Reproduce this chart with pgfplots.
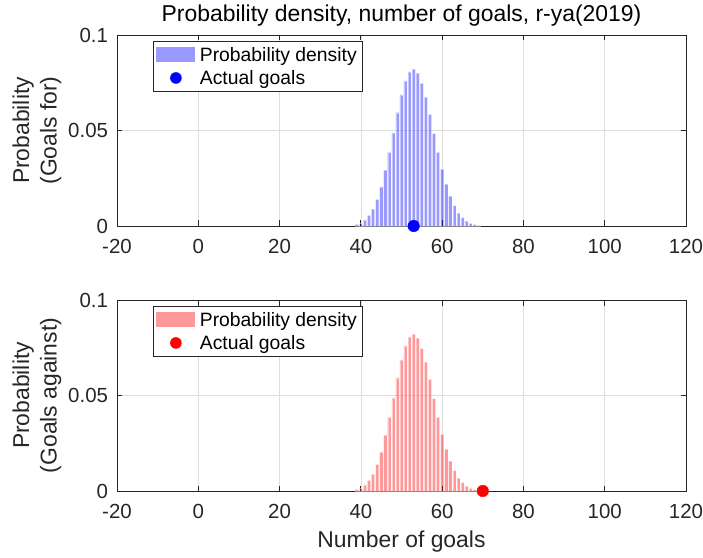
\documentclass[border=0pt]{standalone}
\usepackage{fontspec}
\setmainfont{Liberation Sans}
\usepackage{pgfplots}
\usepackage{pgfplotstable}
\pgfplotsset{compat=1.18}
\definecolor{axgray}{rgb}{0.15,0.15,0.15}
\definecolor{barblue}{rgb}{0.6,0.6,1}
\definecolor{barred}{rgb}{1,0.6,0.6}

\pgfplotstableread{
x y
39 0.0008
40 0.0014
41 0.0032
42 0.0056
43 0.0089
44 0.0140
45 0.0205
46 0.0293
47 0.0386
48 0.0488
49 0.0593
50 0.0686
51 0.0760
52 0.0807
53 0.0821
54 0.0800
55 0.0747
56 0.0675
57 0.0584
58 0.0484
59 0.0386
60 0.0298
61 0.0219
62 0.0156
63 0.0107
64 0.0068
65 0.0044
66 0.0026
67 0.0014
68 0.0007
69 0.0003
}\distfor

\pgfplotstableread{
x y
39 0.0008
40 0.0014
41 0.0032
42 0.0056
43 0.0089
44 0.0140
45 0.0205
46 0.0293
47 0.0386
48 0.0488
49 0.0593
50 0.0686
51 0.0760
52 0.0807
53 0.0821
54 0.0800
55 0.0747
56 0.0675
57 0.0584
58 0.0484
59 0.0386
60 0.0298
61 0.0219
62 0.0156
63 0.0107
64 0.0068
65 0.0044
66 0.0026
67 0.0014
68 0.0007
69 0.0003
}\distagainst

\pgfplotsset{
  goalstyle/.style={
    width=569bp, height=191bp, scale only axis,
    xmin=-20, xmax=120, ymin=0, ymax=0.1,
    xtick={-20,0,20,40,60,80,100,120},
    xticklabels={-20,0,20,40,60,80,100,120},
    ytick={0,0.05,0.1}, yticklabels={0,0.05,0.1},
    tick label style={font=\fontsize{20.5}{24}\selectfont, text=axgray, inner sep=1bp},
    xticklabel style={yshift=-12.3bp},
    yticklabel style={xshift=-7.8bp},
    axis line style={axgray, line width=0.8bp},
    tick style={axgray, line width=0.8bp},
    major tick length=5.5bp,
    tick align=inside,
    grid=major, grid style={black!13, line width=0.6bp},
    ylabel style={font=\fontsize{23}{27.5}\selectfont, text=axgray, align=center,
      at={(axis description cs:0,0.5)}, anchor=center, yshift=80bp},
    clip=false,
    legend cell align=left,
    legend style={anchor=north west, draw=axgray, line width=0.8bp,
      font=\fontsize{19.4}{22}\selectfont, inner xsep=3bp, inner ysep=2bp,
      nodes={inner xsep=2.5bp, inner ysep=3.8bp}, row sep=0bp,
      at={(axis description cs:0.0633,0.969)}},
  },
  barleg/.style={legend image code/.code={
      \fill[#1, fill opacity=1, draw=none] (0bp,-7.5bp) rectangle (39bp,7.5bp);
      \path[draw=none, fill=none] (0bp,0bp) -- (41bp,0bp);}},
  dotleg/.style={legend image code/.code={
      \path[draw=none, fill=none] (0bp,0bp) -- (41bp,0bp);
      \fill[#1, draw=none] (19.5bp,0bp) circle (5.8bp);}},
}

\begin{document}
\begin{tikzpicture}
\useasboundingbox (-117bp,-332bp) rectangle (586bp,226bp);
\begin{axis}[goalstyle, at={(0bp,0bp)},
  ylabel={Probability\\(Goals for)},
  title={Probability density, number of goals, r-ya(2019)},
  title style={font=\fontsize{23}{27}\selectfont, text=black,
    at={(axis description cs:0.5,1)}, anchor=base, yshift=8bp}]
\addplot[ybar, bar width=0.78, fill=blue, fill opacity=0.4, draw=white, draw opacity=0.45,
  line width=0.4bp, barleg=barblue] table[x=x,y=y] {\distfor};
\addlegendentry{Probability density}
\addplot[only marks, mark=*, mark size=5.8bp, blue, dotleg=blue] coordinates {(53,0)};
\addlegendentry{Actual goals}
\end{axis}
\begin{axis}[goalstyle, at={(0bp,-265bp)},
  ylabel={Probability\\(Goals against)},
  xlabel={Number of goals},
  xlabel style={font=\fontsize{23}{27}\selectfont, text=axgray,
    at={(axis description cs:0.5,0)}, anchor=base, yshift=-56bp}]
\addplot[ybar, bar width=0.78, fill=red, fill opacity=0.4, draw=white, draw opacity=0.45,
  line width=0.4bp, barleg=barred] table[x=x,y=y] {\distagainst};
\addlegendentry{Probability density}
\addplot[only marks, mark=*, mark size=5.8bp, red, dotleg=red] coordinates {(70,0)};
\addlegendentry{Actual goals}
\end{axis}
\end{tikzpicture}
\end{document}
